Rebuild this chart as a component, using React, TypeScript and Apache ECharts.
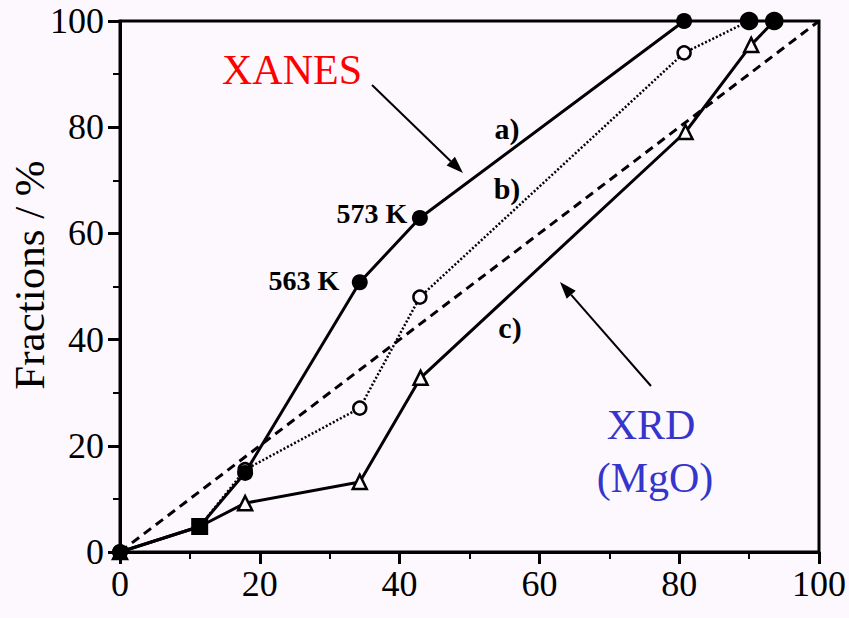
import React, { useEffect, useRef } from "react";
import * as echarts from "echarts";

const xTicks = [0, 20, 40, 60, 80, 100];
const seriesA: [number, number][] = [[0, 0], [11.4, 4.8], [17.9, 14.9], [34.3, 50.8], [42.9, 62.9], [80.7, 100]];
const seriesB: [number, number][] = [[0, 0], [11.4, 4.8], [17.9, 15.5], [34.3, 27.1], [42.9, 48.0], [80.7, 94.0], [90.0, 100]];
const seriesC: [number, number][] = [[0, 0], [11.4, 4.8], [17.9, 9.2], [34.3, 13.2], [43.0, 32.8], [80.9, 79.1], [90.3, 95.5], [93.6, 100]];
const diagonal: [number, number][] = [[0, 0], [100, 100]];

const BG = "#fdf8fd";
const FONT = "'Liberation Serif', 'Times New Roman', serif";

function arrow(x1: number, y1: number, x2: number, y2: number) {
  const dx = x2 - x1, dy = y2 - y1;
  const len = Math.hypot(dx, dy);
  const ux = dx / len, uy = dy / len;
  const hl = 17, hw = 6;
  const bx = x2 - ux * hl, by = y2 - uy * hl;
  return [
    { type: "line", shape: { x1, y1, x2: bx, y2: by }, style: { stroke: "#000", lineWidth: 2 } },
    {
      type: "polygon",
      shape: { points: [[x2, y2], [bx - uy * hw, by + ux * hw], [bx + uy * hw, by - ux * hw]] },
      style: { fill: "#000" },
    },
  ];
}

function txt(text: string, x: number, y: number, size: number, color: string, bold = false, rotation = 0) {
  return {
    type: "text",
    x,
    y,
    rotation,
    style: {
      text,
      fill: color,
      font: `${bold ? "bold " : ""}${size}px ${FONT}`,
      align: "center",
      verticalAlign: "middle",
    },
  };
}

export default function App() {
  const ref = useRef<HTMLDivElement>(null);
  useEffect(() => {
    if (!ref.current) return;
    const chart = echarts.init(ref.current, undefined, { renderer: "svg" });
    const axisCommon = {
      type: "value",
      min: 0,
      max: 100,
      interval: 20,
      axisLine: { show: true, onZero: false, lineStyle: { color: "#000", width: 3 } },
      axisTick: { show: true, inside: false, length: 12, lineStyle: { color: "#000", width: 3 } },
      minorTick: { show: true, splitNumber: 2, length: 7, lineStyle: { color: "#000", width: 2 } },
      splitLine: { show: false },
      axisLabel: { color: "#000", fontSize: 36, fontFamily: FONT, margin: 14 },
    };
    chart.setOption({
      animation: false,
      backgroundColor: BG,
      grid: {
        left: 120,
        right: 30,
        top: 21,
        bottom: 66,
        outerBoundsMode: "none",
        containLabel: false,
        show: true,
        borderColor: "#000",
        borderWidth: 3,
        backgroundColor: "transparent",
      },
      xAxis: { ...axisCommon, axisLabel: { ...axisCommon.axisLabel, formatter: (v: number) => (xTicks.includes(v) ? String(v) : "") } },
      yAxis: {
        ...axisCommon,
        axisLabel: { ...axisCommon.axisLabel, margin: 16 },
      },
      series: [
        {
          type: "line",
          data: diagonal,
          symbol: "none",
          lineStyle: { color: "#000", width: 3, type: [9, 6] },
          z: 1,
        },
        {
          type: "line",
          data: seriesB.map((p, i) =>
            i === seriesB.length - 1
              ? { value: p, symbol: "circle", symbolSize: 16, itemStyle: { color: "#000", borderColor: "#000" } }
              : i === 1
              ? { value: p, symbol: "none" }
              : { value: p }
          ),
          symbol: "circle",
          symbolSize: 13,
          itemStyle: { color: BG, borderColor: "#000", borderWidth: 2.5 },
          lineStyle: { color: "#000", width: 2.5, type: [2, 2] },
          z: 2,
        },
        {
          type: "line",
          data: seriesC.map((p, i) =>
            i === seriesC.length - 1
              ? { value: p, symbol: "circle", symbolSize: 16, itemStyle: { color: "#000", borderColor: "#000" } }
              : i === 1
              ? { value: p, symbol: "none" }
              : { value: p }
          ),
          symbol: "triangle",
          symbolSize: 14,
          itemStyle: { color: BG, borderColor: "#000", borderWidth: 2.5 },
          lineStyle: { color: "#000", width: 3 },
          z: 3,
        },
        {
          type: "line",
          data: seriesA.map((p, i) => (i === 1 ? { value: p, symbol: "rect", symbolSize: 17 } : { value: p })),
          symbol: "circle",
          symbolSize: 16,
          itemStyle: { color: "#000" },
          lineStyle: { color: "#000", width: 3 },
          z: 4,
        },
      ],
      graphic: [
        txt("Fractions / %", 29, 275, 43, "#000", false, Math.PI / 2),
        txt("XANES", 292, 70, 42, "#ff0000"),
        txt("XRD", 651, 425, 42, "#3535cc"),
        txt("(MgO)", 655, 478, 42, "#3535cc"),
        txt("a)", 507, 128, 30, "#000", true),
        txt("b)", 507, 188, 30, "#000", true),
        txt("c)", 510, 327, 30, "#000", true),
        txt("563 K", 304, 280, 28, "#000", true),
        txt("573 K", 372, 213, 28, "#000", true),
        ...arrow(372, 85, 463, 173),
        ...arrow(651, 386, 560, 282),
      ],
    });
    return () => chart.dispose();
  }, []);
  return <div ref={ref} style={{ position: "fixed", left: 0, top: 0, width: 849, height: 618, background: BG }} />;
}
